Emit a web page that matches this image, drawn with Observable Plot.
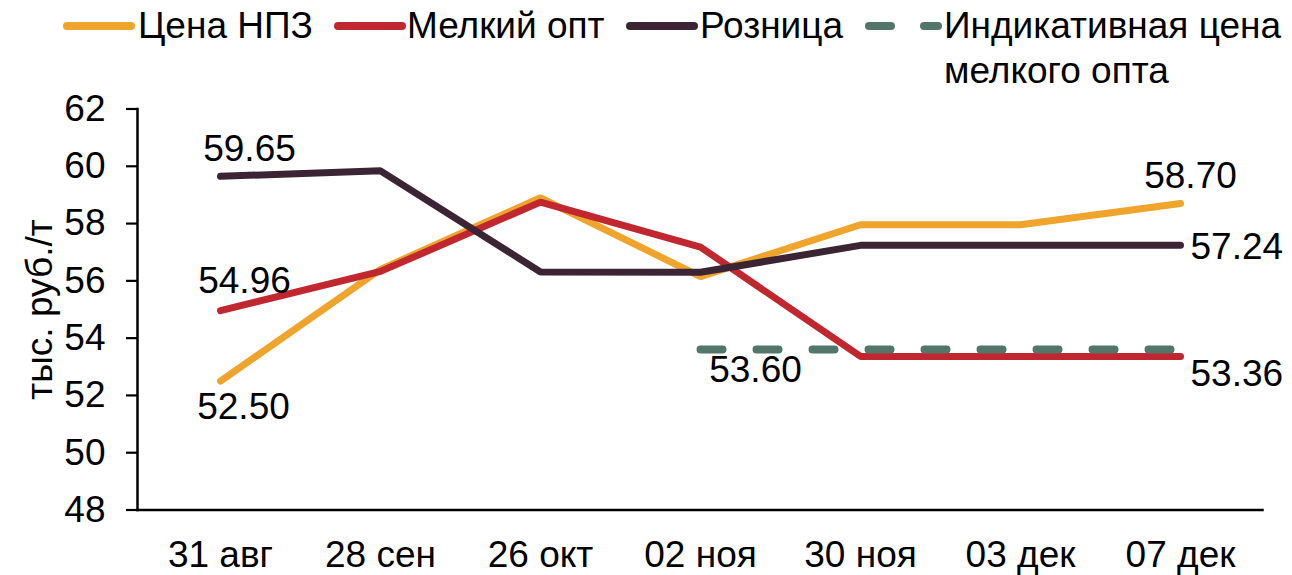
<!DOCTYPE html>
<html><head><meta charset="utf-8">
<script src="https://cdn.jsdelivr.net/npm/d3@7"></script>
<script src="https://cdn.jsdelivr.net/npm/@observablehq/plot@0.6"></script>
<style>
body{margin:0;background:#fff;font-family:"Liberation Sans",Arial,sans-serif;}
#wrap{position:relative;width:1292px;height:575px;overflow:hidden;background:#fff}
#legend{position:relative;height:90px;width:1292px}
.item{position:absolute;top:3px;height:86px}
.item svg{position:absolute;left:0;top:0;overflow:visible}
.item span{position:absolute;top:0;white-space:nowrap;font-size:37px;line-height:45px;color:#000}
#chart svg{display:block}
</style></head><body><div id="wrap"><div id="legend"></div><div id="chart"></div></div>
<script>
// ---- data ----
const dates = ["31 авг", "28 сен", "26 окт", "02 ноя", "30 ноя", "03 дек", "07 дек"];
const refinery = [52.50, 56.40, 58.90, 56.15, 57.96, 57.96, 58.70];
const smallWholesale = [54.96, 56.33, 58.75, 57.18, 53.36, 53.36, 53.36];
const retail = [59.65, 59.84, 56.31, 56.30, 57.24, 57.24, 57.24];
const indicative = [null, null, null, 53.60, 53.60, 53.60, 53.60];
const seriesNames = ["Цена НПЗ", "Мелкий опт", "Розница", "Индикативная цена\nмелкого опта"];
const seriesColors = ["#EFA42C", "#C1272F", "#3B2434", "#52776A"];
const yTicks = [48, 50, 52, 54, 56, 58, 60, 62];
const yLabel = "тыс. руб./т";

// ---- legend (HTML, above the SVG) ----
const swLeft = [63, 334, 626, 865];
const txLeft = [75, 73, 74, 79];
const legend = d3.select("#legend");
seriesNames.forEach((name, i) => {
  const item = legend.append("div").attr("class", "item").style("left", swLeft[i] + "px");
  const svg = item.append("svg").attr("width", 90).attr("height", 50);
  const dashed = i === 3;
  svg.append("line")
    .attr("x1", 4).attr("x2", dashed ? 73 : 68)
    .attr("y1", 23).attr("y2", 23)
    .attr("stroke", seriesColors[i]).attr("stroke-width", 8)
    .attr("stroke-linecap", "round")
    .attr("stroke-dasharray", dashed ? "22 33" : null);
  const span = item.append("span").style("left", txLeft[i] + "px");
  name.split("\n").forEach((t, k) => { if (k) span.append("br"); span.append("tspan").text(t); });
});

// ---- chart ----
const rowsOf = (vals) => dates.map((d, i) => ({date: d, value: vals[i]})).filter(r => r.value != null);
const rRef = rowsOf(refinery), rSW = rowsOf(smallWholesale), rRet = rowsOf(retail), rInd = rowsOf(indicative);
const fmt = d => d.value.toFixed(2);
const lineOpts = (c) => ({x: "date", y: "value", stroke: c, strokeWidth: 7, strokeLinecap: "round", strokeLinejoin: "miter", curve: "linear"});
const txt = (r, o) => Plot.text([r], {x: "date", y: "value", text: fmt, fontSize: 37, fill: "#000", ...o});

const chart = Plot.plot({
  width: 1292, height: 485,
  marginTop: 18.5, marginBottom: 65.5, marginLeft: 137, marginRight: 30,
  style: {fontFamily: '"Liberation Sans", Arial, sans-serif', fontSize: "37px", color: "#000", background: "#fff", overflow: "visible"},
  x: {type: "point", domain: dates, padding: 0.5},
  y: {domain: [48, 62]},
  marks: [
    Plot.axisY({ticks: yTicks, tickSize: 11, tickPadding: 21, strokeWidth: 2.2, fontSize: 37,
      label: yLabel, labelAnchor: "center", labelOffset: 112, labelArrow: "none"}),
    Plot.axisX({tickSize: 0, tickPadding: 31, label: null, fontSize: 37}),
    Plot.frame({anchor: "left", strokeWidth: 2.5, stroke: "#000"}),
    Plot.frame({anchor: "bottom", strokeWidth: 2.5, stroke: "#000"}),
    Plot.line(rRef, lineOpts(seriesColors[0])),
    Plot.line(rSW, lineOpts(seriesColors[1])),
    Plot.line(rRet, lineOpts(seriesColors[2])),
    Plot.line(rInd, {...lineOpts(seriesColors[3]), strokeWidth: 8, strokeDasharray: "22 34"}),
    txt(rRet[0], {dx: 29, dy: -27}),
    txt(rSW[0], {dx: 24, dy: -29}),
    txt(rRef[0], {dx: 23, dy: 26}),
    txt(rInd[0], {dx: 55, dy: 21}),
    txt(rRef[rRef.length - 1], {dx: 10, dy: -27}),
    txt(rRet[rRet.length - 1], {dx: 10, dy: 2, textAnchor: "start"}),
    txt(rSW[rSW.length - 1], {dx: 10, dy: 18, textAnchor: "start"})
  ]
});
document.getElementById("chart").appendChild(chart);
</script></body></html>
